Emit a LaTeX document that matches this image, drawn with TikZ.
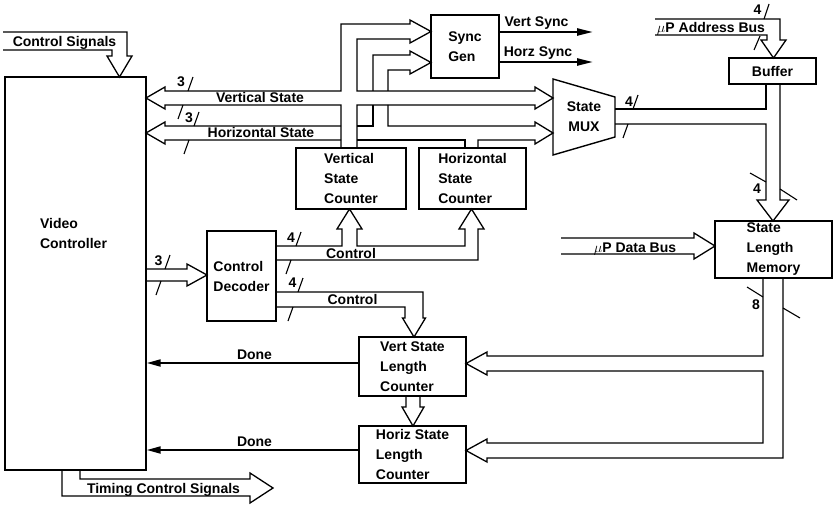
\documentclass[tikz,border=0pt]{standalone}
\usepackage{fontspec}
\setmainfont{Liberation Sans}
\usetikzlibrary{arrows.meta}
\begin{document}
\begin{tikzpicture}[x=1pt,y=-1pt,
  every node/.style={font=\bfseries\fontsize{14}{20}\selectfont, inner sep=0pt, align=left},
  blk/.style={draw, line width=1.4pt},
  bus/.style={line width=1.3pt, line join=miter},
  tick/.style={line width=1.1pt},
  lab/.style={anchor=base},
  sig/.style={line width=2.4pt, -{Triangle[length=16pt,width=7pt]}},
  done/.style={line width=2pt, -{Triangle[length=14pt,width=7pt]}}]
\useasboundingbox (0,0) rectangle (834,505);

% ---- blocks ----
\node[blk, minimum width=141pt, minimum height=393pt] (vc) at (75.5,273.5) {};
\node (vctext) at (73.5,233.5) {Video\\Controller};
\node[blk, minimum width=68pt, minimum height=63pt] (sync) at (465,46.5) {Sync\\Gen};
\node[blk, minimum width=87pt, minimum height=26pt] (buf) at (772.5,71) {Buffer};
\node[blk, minimum width=110pt, minimum height=61pt] (vsc) at (351,178.5) {Vertical\\State\\Counter};
\node[blk, minimum width=107pt, minimum height=61pt] (hsc) at (472.5,178.5) {Horizontal\\State\\Counter};
\node[blk, minimum width=69pt, minimum height=90pt] (dec) at (241.5,276) {Control\\Decoder};
\node[blk, minimum width=117pt, minimum height=57pt] (mem) at (773.5,249.5) {State\\Length\\Memory};
\node[blk, minimum width=107pt, minimum height=59pt] (vslc) at (412.5,366.5) {Vert State\\Length\\Counter};
\node[blk, minimum width=107pt, minimum height=57pt] (hslc) at (412.5,454.5) {Horiz State\\Length\\Counter};
\draw[blk] (553,79) -- (615,97) -- (615,137) -- (553,155) -- cycle;
\node[align=center] (mux) at (584,117) {State\\MUX};

% ---- wide bus arrows ----
% control signals into the video controller
\draw[bus] (3,32) -- (127,32) -- (127,56) -- (132,56) -- (119.5,77) -- (107,56) -- (112,56) -- (112,50) -- (3,50);
% vertical state counter output: to controller, sync gen and MUX
\draw[bus] (341,148) -- (341,105) -- (165,105) -- (165,109) -- (146,98) -- (165,87) -- (165,91) -- (341,91)
  -- (341,24) -- (410,24) -- (410,20) -- (431,31.5) -- (410,43) -- (410,39) -- (357,39) -- (357,91)
  -- (535,91) -- (535,87) -- (553,98) -- (535,109) -- (535,105) -- (357,105) -- (357,148);
% horizontal state counter output
\draw[bus] (478,148) -- (478,140) -- (535,140) -- (535,144) -- (553,133) -- (535,122) -- (535,126) -- (388,126) -- (388,105);
\draw[bus] (388,91) -- (388,70) -- (410,70) -- (410,74) -- (431,62.5) -- (410,51) -- (410,55) -- (373,55) -- (373,91);
\draw[bus] (373,105) -- (373,126) -- (357,126);
\draw[bus] (341,126) -- (165,126) -- (165,122) -- (146,133) -- (165,144) -- (165,140) -- (341,140);
\draw[bus] (357,140) -- (465,140) -- (465,148);
% MUX output and buffer into the memory
\draw[bus] (615,109) -- (766,109) -- (766,84);
\draw[bus] (615,124) -- (766,124) -- (766,200) -- (757,200) -- (773,221) -- (789,200) -- (780,200) -- (780,84);
% address bus into the buffer
\draw[bus] (655,19) -- (780,19) -- (780,40) -- (786,40) -- (773.5,58) -- (761,40) -- (767,40) -- (767,35) -- (655,35);
% data bus into the memory
\draw[bus] (561,238) -- (694,238) -- (694,233) -- (715,246) -- (694,259) -- (694,254) -- (561,254);
% memory outputs to the length counters
\draw[bus] (763,278) -- (763,356) -- (487,356) -- (487,352) -- (466,363.5) -- (487,375) -- (487,371) -- (763,371)
  -- (763,443) -- (487,443) -- (487,439) -- (466,450.5) -- (487,462) -- (487,458) -- (783,458) -- (783,278);
% controller to decoder
\draw[bus] (146,269) -- (187,269) -- (187,264) -- (207,275) -- (187,286) -- (187,281) -- (146,281);
% decoder control to the state counters
\draw[bus] (276,246) -- (342,246) -- (342,229) -- (337,229) -- (349.5,209) -- (362,229) -- (357,229) -- (357,246)
  -- (465,246) -- (465,229) -- (459,229) -- (471.5,209) -- (484,229) -- (478,229) -- (478,260) -- (276,260);
% decoder control to the vert state length counter
\draw[bus] (276,292) -- (423,292) -- (423,318) -- (425.5,318) -- (414,337) -- (402.5,318) -- (405,318) -- (405,307) -- (276,307);
% vert length counter to horiz length counter
\draw[bus] (406,396) -- (406,407) -- (402,407) -- (413,426) -- (424,407) -- (420,407) -- (420,396);
% timing control signals out of the controller
\draw[bus] (62,470) -- (62,496) -- (250,496) -- (250,503) -- (273,488) -- (250,473) -- (250,479) -- (80,479) -- (80,470);

% ---- single signal lines ----
\coordinate (vsyncend) at (593,32);
\coordinate (hsyncend) at (593,62);
\draw[sig] (sync.east |- vsyncend) -- (vsyncend);
\draw[sig] (sync.east |- hsyncend) -- (hsyncend);
\coordinate (d1) at ([yshift=3.5pt]vslc.west);
\coordinate (d2) at ([yshift=4.5pt]hslc.west);
\draw[done] (d1) -- (d1 -| vc.east);
\draw[done] (d2) -- (d2 -| vc.east);

% ---- bus labels ----
\node[lab] at (64.5,47) {Control Signals};
\node[lab] at (260,103) {Vertical State};
\node[lab] at (261,137.5) {Horizontal State};
\node[lab] at (536.5,27) {Vert Sync};
\node[lab] at (538,57) {Horz Sync};
\node[lab] at (711,33) {$\mu$P Address Bus};
\node[lab] at (635,252) {$\mu$P Data Bus};
\node[lab] at (351,258) {Control};
\node[lab] at (352.5,304) {Control};
\node[lab] at (254.5,359) {Done};
\node[lab] at (254.5,446) {Done};
\node[lab] at (163.5,493) {Timing Control Signals};

% ---- bus widths ----
\node[lab] at (181,87) {3};
\node[lab] at (189,123) {3};
\node[lab] at (158.5,265) {3};
\node[lab] at (291,242.5) {4};
\node[lab] at (292.5,287) {4};
\node[lab] at (629,106.5) {4};
\node[lab] at (757,193) {4};
\node[lab] at (757.5,15) {4};
\node[lab] at (756,309.5) {8};

\draw[tick] (188,91) -- (193,77);
\draw[tick] (183,105) -- (178,119);
\draw[tick] (194,126) -- (199,112);
\draw[tick] (189,140) -- (184,154);
\draw[tick] (165,269) -- (170,255);
\draw[tick] (161,281) -- (156,295);
\draw[tick] (296,246) -- (301,232);
\draw[tick] (291,260) -- (286,274);
\draw[tick] (298,292) -- (303,278);
\draw[tick] (293,307) -- (288,321);
\draw[tick] (633,109) -- (638,95);
\draw[tick] (628,124) -- (623,138);
\draw[tick] (764,19) -- (769,4);
\draw[tick] (760,36) -- (754,50);
\draw[tick] (766,182) -- (750,173);
\draw[tick] (780,189) -- (797,200);
\draw[tick] (763,297) -- (747,287);
\draw[tick] (783,308) -- (800,318);
\end{tikzpicture}
\end{document}
